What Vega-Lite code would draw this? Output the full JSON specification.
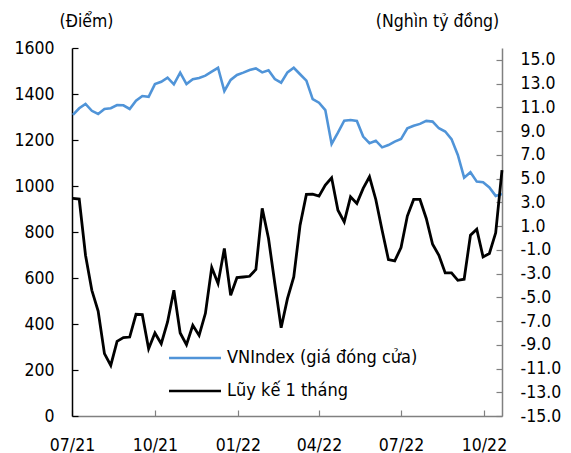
{
  "$schema": "https://vega.github.io/schema/vega-lite/v6.json",
  "autosize": {"type": "none"},
  "width": 430,
  "height": 368,
  "padding": {"left": 72, "top": 48, "right": 69, "bottom": 37},
  "background": "white",
  "config": {
    "view": {"stroke": null},
    "font": "DejaVu Sans Condensed, DejaVu Sans",
    "axis": {"labelFont": "DejaVu Sans Condensed, DejaVu Sans", "titleFont": "DejaVu Sans Condensed, DejaVu Sans", "labelFontSize": 17.5, "titleFontSize": 17.5, "labelColor": "#000000", "titleColor": "#000000", "titleFontWeight": "normal", "grid": false},
    "legend": {"labelFont": "DejaVu Sans Condensed, DejaVu Sans", "labelFontSize": 18, "labelColor": "#000000", "labelLimit": 0}
  },
  "data": {
    "values": [
      {"date": "2021-07-02", "vnindex": 1309, "luyke": 3.33},
      {"date": "2021-07-09", "vnindex": 1338, "luyke": 3.27},
      {"date": "2021-07-16", "vnindex": 1357, "luyke": -1.46},
      {"date": "2021-07-23", "vnindex": 1327, "luyke": -4.41},
      {"date": "2021-07-30", "vnindex": 1313, "luyke": -6.16},
      {"date": "2021-08-06", "vnindex": 1335, "luyke": -9.75},
      {"date": "2021-08-13", "vnindex": 1338, "luyke": -10.74},
      {"date": "2021-08-20", "vnindex": 1352, "luyke": -8.71},
      {"date": "2021-08-27", "vnindex": 1351, "luyke": -8.4},
      {"date": "2021-09-03", "vnindex": 1335, "luyke": -8.35},
      {"date": "2021-09-10", "vnindex": 1371, "luyke": -6.43},
      {"date": "2021-09-17", "vnindex": 1391, "luyke": -6.46},
      {"date": "2021-09-24", "vnindex": 1388, "luyke": -9.33},
      {"date": "2021-10-01", "vnindex": 1443, "luyke": -8.01},
      {"date": "2021-10-08", "vnindex": 1453, "luyke": -8.91},
      {"date": "2021-10-15", "vnindex": 1471, "luyke": -7.08},
      {"date": "2021-10-22", "vnindex": 1442, "luyke": -4.41},
      {"date": "2021-10-29", "vnindex": 1493, "luyke": -8.01},
      {"date": "2021-11-05", "vnindex": 1443, "luyke": -8.99},
      {"date": "2021-11-12", "vnindex": 1464, "luyke": -7.36},
      {"date": "2021-11-19", "vnindex": 1470, "luyke": -8.21},
      {"date": "2021-11-26", "vnindex": 1480, "luyke": -6.35},
      {"date": "2021-12-03", "vnindex": 1497, "luyke": -2.49},
      {"date": "2021-12-10", "vnindex": 1514, "luyke": -3.84},
      {"date": "2021-12-17", "vnindex": 1413, "luyke": -0.89},
      {"date": "2021-12-24", "vnindex": 1461, "luyke": -4.83},
      {"date": "2021-12-31", "vnindex": 1483, "luyke": -3.34},
      {"date": "2022-01-07", "vnindex": 1493, "luyke": -3.29},
      {"date": "2022-01-14", "vnindex": 1504, "luyke": -3.23},
      {"date": "2022-01-21", "vnindex": 1511, "luyke": -2.66},
      {"date": "2022-01-28", "vnindex": 1494, "luyke": 2.49},
      {"date": "2022-02-04", "vnindex": 1503, "luyke": -0.05},
      {"date": "2022-02-11", "vnindex": 1465, "luyke": -3.84},
      {"date": "2022-02-18", "vnindex": 1449, "luyke": -7.56},
      {"date": "2022-02-25", "vnindex": 1494, "luyke": -5.11},
      {"date": "2022-03-04", "vnindex": 1514, "luyke": -3.29},
      {"date": "2022-03-11", "vnindex": 1486, "luyke": 1.08},
      {"date": "2022-03-18", "vnindex": 1458, "luyke": 3.67},
      {"date": "2022-03-25", "vnindex": 1378, "luyke": 3.69},
      {"date": "2022-04-01", "vnindex": 1362, "luyke": 3.52},
      {"date": "2022-04-08", "vnindex": 1330, "luyke": 4.45},
      {"date": "2022-04-15", "vnindex": 1183, "luyke": 5.07},
      {"date": "2022-04-22", "vnindex": 1232, "luyke": 2.34},
      {"date": "2022-04-29", "vnindex": 1284, "luyke": 1.35},
      {"date": "2022-05-06", "vnindex": 1287, "luyke": 3.46},
      {"date": "2022-05-13", "vnindex": 1283, "luyke": 2.91},
      {"date": "2022-05-20", "vnindex": 1215, "luyke": 4.17},
      {"date": "2022-05-27", "vnindex": 1186, "luyke": 5.15},
      {"date": "2022-06-03", "vnindex": 1197, "luyke": 3.24},
      {"date": "2022-06-10", "vnindex": 1168, "luyke": 0.65},
      {"date": "2022-06-17", "vnindex": 1178, "luyke": -1.82},
      {"date": "2022-06-24", "vnindex": 1193, "luyke": -1.94},
      {"date": "2022-07-01", "vnindex": 1204, "luyke": -0.81},
      {"date": "2022-07-08", "vnindex": 1251, "luyke": 1.84},
      {"date": "2022-07-15", "vnindex": 1262, "luyke": 3.24},
      {"date": "2022-07-22", "vnindex": 1270, "luyke": 3.24},
      {"date": "2022-07-29", "vnindex": 1283, "luyke": 1.64},
      {"date": "2022-08-05", "vnindex": 1280, "luyke": -0.53},
      {"date": "2022-08-12", "vnindex": 1251, "luyke": -1.46},
      {"date": "2022-08-19", "vnindex": 1237, "luyke": -2.95},
      {"date": "2022-08-26", "vnindex": 1204, "luyke": -2.95},
      {"date": "2022-09-02", "vnindex": 1135, "luyke": -3.57},
      {"date": "2022-09-09", "vnindex": 1036, "luyke": -3.48},
      {"date": "2022-09-16", "vnindex": 1060, "luyke": 0.23},
      {"date": "2022-09-23", "vnindex": 1019, "luyke": 0.74},
      {"date": "2022-09-30", "vnindex": 1016, "luyke": -1.6},
      {"date": "2022-10-07", "vnindex": 994, "luyke": -1.31},
      {"date": "2022-10-14", "vnindex": 957, "luyke": 0.43},
      {"date": "2022-10-21", "vnindex": 965, "luyke": 5.72}
    ]
  },
  "encoding": {
    "x": {
      "field": "date",
      "type": "temporal",
      "scale": {"type": "utc", "domain": [{"year": 2021, "month": 7, "date": 1, "utc": true}, {"year": 2022, "month": 10, "date": 21, "utc": true}]},
      "axis": {
        "title": null,
        "values": [
          {"year": 2021, "month": 7, "date": 1, "utc": true},
          {"year": 2021, "month": 10, "date": 1, "utc": true},
          {"year": 2022, "month": 1, "date": 1, "utc": true},
          {"year": 2022, "month": 4, "date": 1, "utc": true},
          {"year": 2022, "month": 7, "date": 1, "utc": true},
          {"year": 2022, "month": 10, "date": 1, "utc": true}
        ],
        "labelExpr": "utcFormat(datum.value, '%m/%y')",
        "domainColor": "#808080",
        "domainWidth": 1.5,
        "tickColor": "#808080",
        "tickWidth": 1.2,
        "tickSize": -6,
        "labelPadding": 26,
        "labelFlush": false,
        "labelOverlap": false
      }
    }
  },
  "layer": [
    {
      "mark": {"type": "line", "strokeWidth": 2.6, "strokeJoin": "miter", "color": "#5094D8"},
      "encoding": {
        "y": {
          "field": "vnindex",
          "type": "quantitative",
          "scale": {"domain": [0, 1600], "nice": false, "zero": false},
          "axis": {
            "orient": "left",
            "title": "(Điểm)",
            "titleAngle": 0,
            "titleAlign": "center",
            "titleBaseline": "middle",
            "titleX": 14,
            "titleY": -27,
            "values": [0, 200, 400, 600, 800, 1000, 1200, 1400, 1600],
            "format": "d",
            "domainColor": "#000000",
            "domainWidth": 1.5,
            "tickColor": "#000000",
            "tickWidth": 1.2,
            "tickSize": -6,
            "labelPadding": 24,
            "labelFlush": false,
            "labelOverlap": false
          }
        },
        "color": {
          "datum": "VNIndex (giá đóng cửa)",
          "type": "nominal",
          "scale": {"domain": ["VNIndex (giá đóng cửa)", "Lũy kế 1 tháng"], "range": ["#5094D8", "#000000"]},
          "legend": {
            "title": null,
            "orient": "none",
            "legendX": 111,
            "legendY": 298,
            "symbolType": "M-2.5,0L2.5,0",
            "symbolSize": 432,
            "symbolStrokeWidth": 2.6,
            "symbolFillColor": "transparent",
            "rowPadding": 12,
            "labelOffset": 20,
            "labelLimit": 0,
            "padding": 0
          }
        }
      }
    },
    {
      "mark": {"type": "line", "strokeWidth": 2.8, "strokeJoin": "miter", "color": "#000000"},
      "encoding": {
        "y": {
          "field": "luyke",
          "type": "quantitative",
          "scale": {"domain": [-15, 16], "nice": false, "zero": false},
          "axis": {
            "orient": "right",
            "title": "(Nghìn tỷ đồng)",
            "titleAngle": 0,
            "titleAlign": "center",
            "titleBaseline": "middle",
            "titleX": -65,
            "titleY": -27,
            "values": [-15, -13, -11, -9, -7, -5, -3, -1, 1, 3, 5, 7, 9, 11, 13, 15],
            "labelExpr": "(datum.value < 0 ? '-' : '') + format(abs(datum.value), '.1f')",
            "domainColor": "#808080",
            "domainWidth": 1.5,
            "tickColor": "#808080",
            "tickWidth": 1.2,
            "tickSize": -6,
            "labelPadding": 24,
            "labelAlign": "left",
            "labelFlush": false,
            "labelOverlap": false
          }
        },
        "color": {"datum": "Lũy kế 1 tháng", "type": "nominal"}
      }
    }
  ],
  "resolve": {"scale": {"y": "independent"}}
}
